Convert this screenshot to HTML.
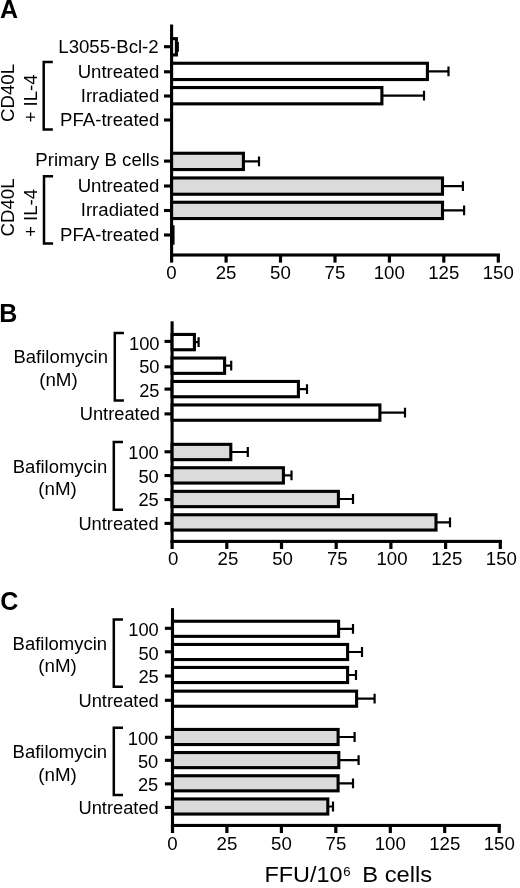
<!DOCTYPE html>
<html><head><meta charset="utf-8"><title>Figure</title>
<style>
html,body{margin:0;padding:0;background:#fff;}
svg{display:block;font-family:"Liberation Sans",sans-serif;fill:#000;will-change:transform;}
</style></head><body>
<svg width="520" height="888" viewBox="0 0 520 888">
<rect width="520" height="888" fill="#fff"/>
<text transform="translate(0.0,17.6) scale(1.0,1)" font-size="25" text-anchor="start" font-weight="bold">A</text>
<rect x="170.05" y="24.5" width="3.1" height="232.0" fill="#000"/>
<rect x="170.05" y="253.45" width="329.9" height="3.1" fill="#000"/>
<rect x="170.0" y="255.0" width="3.2" height="7.6" fill="#000"/>
<text transform="translate(171.5,279.2) scale(1.02,1)" font-size="18.3" text-anchor="middle">0</text>
<rect x="224.5" y="255.0" width="3.2" height="7.6" fill="#000"/>
<text transform="translate(226.0,279.2) scale(1.02,1)" font-size="18.3" text-anchor="middle">25</text>
<rect x="278.9" y="255.0" width="3.2" height="7.6" fill="#000"/>
<text transform="translate(280.4,279.2) scale(1.02,1)" font-size="18.3" text-anchor="middle">50</text>
<rect x="333.4" y="255.0" width="3.2" height="7.6" fill="#000"/>
<text transform="translate(334.9,279.2) scale(1.02,1)" font-size="18.3" text-anchor="middle">75</text>
<rect x="387.8" y="255.0" width="3.2" height="7.6" fill="#000"/>
<text transform="translate(389.3,279.2) scale(1.02,1)" font-size="18.3" text-anchor="middle">100</text>
<rect x="442.2" y="255.0" width="3.2" height="7.6" fill="#000"/>
<text transform="translate(443.8,279.2) scale(1.02,1)" font-size="18.3" text-anchor="middle">125</text>
<rect x="496.7" y="255.0" width="3.2" height="7.6" fill="#000"/>
<text transform="translate(498.2,279.2) scale(1.02,1)" font-size="18.3" text-anchor="middle">150</text>
<rect x="164.0" y="45.15" width="8" height="3.1" fill="#000"/>
<path d="M176.9,46.8H177.8M177.8,41.9V51.7" stroke="#000" stroke-width="2.2" fill="none"/><rect x="171.6" y="38.65" width="4.8" height="16.30" fill="#fff" stroke="#000" stroke-width="3.1"/>
<text transform="translate(158.6,52.7) scale(1.017,1)" font-size="18.3" text-anchor="end">L3055-Bcl-2</text>
<rect x="164.0" y="70.25" width="8" height="3.1" fill="#000"/>
<path d="M428.0,71.4H448.5M448.5,66.5V76.3" stroke="#000" stroke-width="2.2" fill="none"/><rect x="171.6" y="63.25" width="255.8" height="16.30" fill="#fff" stroke="#000" stroke-width="3.1"/>
<text transform="translate(159.3,78.0) scale(1.017,1)" font-size="18.3" text-anchor="end">Untreated</text>
<rect x="164.0" y="94.45" width="8" height="3.1" fill="#000"/>
<path d="M382.5,95.7H424.0M424.0,90.8V100.6" stroke="#000" stroke-width="2.2" fill="none"/><rect x="171.6" y="87.55" width="210.3" height="16.30" fill="#fff" stroke="#000" stroke-width="3.1"/>
<text transform="translate(159.3,102.2) scale(1.017,1)" font-size="18.3" text-anchor="end">Irradiated</text>
<rect x="164.0" y="118.45" width="8" height="3.1" fill="#000"/>
<text transform="translate(159.3,125.7) scale(1.017,1)" font-size="18.3" text-anchor="end">PFA-treated</text>
<rect x="164.0" y="159.55" width="8" height="3.1" fill="#000"/>
<path d="M244.0,161.4H259.0M259.0,156.5V166.3" stroke="#000" stroke-width="2.2" fill="none"/><rect x="171.6" y="153.25" width="71.8" height="16.30" fill="#dbdbdb" stroke="#000" stroke-width="3.1"/>
<text transform="translate(159.3,165.9) scale(1.017,1)" font-size="18.3" text-anchor="end">Primary B cells</text>
<rect x="164.0" y="184.45" width="8" height="3.1" fill="#000"/>
<path d="M443.0,186.1H462.9M462.9,181.2V191.0" stroke="#000" stroke-width="2.2" fill="none"/><rect x="171.6" y="177.95" width="270.9" height="16.30" fill="#dbdbdb" stroke="#000" stroke-width="3.1"/>
<text transform="translate(159.3,192.2) scale(1.017,1)" font-size="18.3" text-anchor="end">Untreated</text>
<rect x="164.0" y="208.95" width="8" height="3.1" fill="#000"/>
<path d="M443.0,210.4H464.1M464.1,205.5V215.3" stroke="#000" stroke-width="2.2" fill="none"/><rect x="171.6" y="202.25" width="270.9" height="16.30" fill="#dbdbdb" stroke="#000" stroke-width="3.1"/>
<text transform="translate(159.3,216.4) scale(1.017,1)" font-size="18.3" text-anchor="end">Irradiated</text>
<rect x="164.0" y="233.45" width="8" height="3.1" fill="#000"/>
<rect x="171.6" y="226.85" width="1.4" height="16.30" fill="#dbdbdb" stroke="#000" stroke-width="3.1"/>
<text transform="translate(159.3,240.6) scale(1.017,1)" font-size="18.3" text-anchor="end">PFA-treated</text>
<path d="M52.8,62.0H43.7V129.5H52.8" stroke="#000" stroke-width="2.5" fill="none"/>
<path d="M53.1,176.3H44.0V243.6H53.1" stroke="#000" stroke-width="2.5" fill="none"/>
<text transform="translate(14.0,93.0) rotate(-90) scale(1.02,1)" font-size="18.3" text-anchor="middle">CD40L</text>
<text transform="translate(36.8,98.5) rotate(-90) scale(1.02,1)" font-size="18.3" text-anchor="middle">+ IL-4</text>
<text transform="translate(14.0,207.5) rotate(-90) scale(1.02,1)" font-size="18.3" text-anchor="middle">CD40L</text>
<text transform="translate(36.8,213.0) rotate(-90) scale(1.02,1)" font-size="18.3" text-anchor="middle">+ IL-4</text>
<text transform="translate(-0.7,322.2) scale(1.0,1)" font-size="25" text-anchor="start" font-weight="bold">B</text>
<rect x="170.55" y="321.3" width="3.1" height="221.6" fill="#000"/>
<rect x="170.55" y="539.85" width="331.4" height="3.1" fill="#000"/>
<rect x="170.5" y="541.4" width="3.2" height="7.6" fill="#000"/>
<text transform="translate(173.2,564.9) scale(1.02,1)" font-size="18.3" text-anchor="middle">0</text>
<rect x="225.2" y="541.4" width="3.2" height="7.6" fill="#000"/>
<text transform="translate(227.9,564.9) scale(1.02,1)" font-size="18.3" text-anchor="middle">25</text>
<rect x="279.9" y="541.4" width="3.2" height="7.6" fill="#000"/>
<text transform="translate(282.6,564.9) scale(1.02,1)" font-size="18.3" text-anchor="middle">50</text>
<rect x="334.6" y="541.4" width="3.2" height="7.6" fill="#000"/>
<text transform="translate(337.3,564.9) scale(1.02,1)" font-size="18.3" text-anchor="middle">75</text>
<rect x="389.3" y="541.4" width="3.2" height="7.6" fill="#000"/>
<text transform="translate(392.0,564.9) scale(1.02,1)" font-size="18.3" text-anchor="middle">100</text>
<rect x="444.0" y="541.4" width="3.2" height="7.6" fill="#000"/>
<text transform="translate(446.7,564.9) scale(1.02,1)" font-size="18.3" text-anchor="middle">125</text>
<rect x="498.7" y="541.4" width="3.2" height="7.6" fill="#000"/>
<text transform="translate(501.4,564.9) scale(1.02,1)" font-size="18.3" text-anchor="middle">150</text>
<rect x="164.5" y="339.85" width="8" height="3.1" fill="#000"/>
<path d="M195.0,342.1H198.6M198.6,337.2V347.0" stroke="#000" stroke-width="2.2" fill="none"/><rect x="172.1" y="334.45" width="22.3" height="15.30" fill="#fff" stroke="#000" stroke-width="3.1"/>
<text transform="translate(159.5,349.7) scale(1.0,1)" font-size="18.3" text-anchor="end">100</text>
<rect x="164.5" y="365.25" width="8" height="3.1" fill="#000"/>
<path d="M225.2,365.7H231.2M231.2,360.8V370.6" stroke="#000" stroke-width="2.2" fill="none"/><rect x="172.1" y="358.05" width="52.5" height="15.30" fill="#fff" stroke="#000" stroke-width="3.1"/>
<text transform="translate(159.5,373.4) scale(1.0,1)" font-size="18.3" text-anchor="end">50</text>
<rect x="164.5" y="387.55" width="8" height="3.1" fill="#000"/>
<path d="M299.0,389.1H307.0M307.0,384.2V394.0" stroke="#000" stroke-width="2.2" fill="none"/><rect x="172.1" y="381.45" width="126.3" height="15.30" fill="#fff" stroke="#000" stroke-width="3.1"/>
<text transform="translate(159.5,396.8) scale(1.0,1)" font-size="18.3" text-anchor="end">25</text>
<rect x="164.5" y="412.35" width="8" height="3.1" fill="#000"/>
<path d="M380.5,412.6H405.0M405.0,407.7V417.5" stroke="#000" stroke-width="2.2" fill="none"/><rect x="172.1" y="404.95" width="207.8" height="15.30" fill="#fff" stroke="#000" stroke-width="3.1"/>
<text transform="translate(160.0,420.0) scale(1.0,1)" font-size="18.3" text-anchor="end">Untreated</text>
<rect x="164.5" y="450.25" width="8" height="3.1" fill="#000"/>
<path d="M231.3,452.0H247.8M247.8,447.1V456.9" stroke="#000" stroke-width="2.2" fill="none"/><rect x="172.1" y="444.35" width="58.7" height="15.30" fill="#dbdbdb" stroke="#000" stroke-width="3.1"/>
<text transform="translate(158.8,459.4) scale(1.0,1)" font-size="18.3" text-anchor="end">100</text>
<rect x="164.5" y="474.00" width="8" height="3.1" fill="#000"/>
<path d="M284.0,475.4H291.5M291.5,470.5V480.3" stroke="#000" stroke-width="2.2" fill="none"/><rect x="172.1" y="467.75" width="111.3" height="15.30" fill="#dbdbdb" stroke="#000" stroke-width="3.1"/>
<text transform="translate(158.8,482.8) scale(1.0,1)" font-size="18.3" text-anchor="end">50</text>
<rect x="164.5" y="498.05" width="8" height="3.1" fill="#000"/>
<path d="M339.0,499.0H353.0M353.0,494.1V503.9" stroke="#000" stroke-width="2.2" fill="none"/><rect x="172.1" y="491.35" width="166.3" height="15.30" fill="#dbdbdb" stroke="#000" stroke-width="3.1"/>
<text transform="translate(158.8,506.4) scale(1.0,1)" font-size="18.3" text-anchor="end">25</text>
<rect x="164.5" y="521.85" width="8" height="3.1" fill="#000"/>
<path d="M436.5,522.4H450.0M450.0,517.5V527.3" stroke="#000" stroke-width="2.2" fill="none"/><rect x="172.1" y="514.75" width="263.9" height="15.30" fill="#dbdbdb" stroke="#000" stroke-width="3.1"/>
<text transform="translate(158.7,529.8) scale(1.0,1)" font-size="18.3" text-anchor="end">Untreated</text>
<path d="M123.9,333.0H114.8V400.4H123.9" stroke="#000" stroke-width="2.5" fill="none"/>
<path d="M123.0,442.1H113.8V509.7H123.0" stroke="#000" stroke-width="2.5" fill="none"/>
<text transform="translate(60.7,363.4) scale(1.01,1)" font-size="18.3" text-anchor="middle">Bafilomycin</text>
<text transform="translate(58.4,385.5) scale(1.025,1)" font-size="18.3" text-anchor="middle">(nM)</text>
<text transform="translate(60.0,472.9) scale(1.01,1)" font-size="18.3" text-anchor="middle">Bafilomycin</text>
<text transform="translate(57.5,495.0) scale(1.025,1)" font-size="18.3" text-anchor="middle">(nM)</text>
<text transform="translate(0.3,609.6) scale(1.0,1)" font-size="25" text-anchor="start" font-weight="bold">C</text>
<rect x="170.95" y="608.1" width="3.1" height="218.9" fill="#000"/>
<rect x="170.95" y="823.90" width="329.9" height="3.1" fill="#000"/>
<rect x="170.9" y="825.45" width="3.2" height="7.6" fill="#000"/>
<text transform="translate(172.5,850.0) scale(1.02,1)" font-size="18.3" text-anchor="middle">0</text>
<rect x="225.3" y="825.45" width="3.2" height="7.6" fill="#000"/>
<text transform="translate(226.9,850.0) scale(1.02,1)" font-size="18.3" text-anchor="middle">25</text>
<rect x="279.8" y="825.45" width="3.2" height="7.6" fill="#000"/>
<text transform="translate(281.4,850.0) scale(1.02,1)" font-size="18.3" text-anchor="middle">50</text>
<rect x="334.2" y="825.45" width="3.2" height="7.6" fill="#000"/>
<text transform="translate(335.9,850.0) scale(1.02,1)" font-size="18.3" text-anchor="middle">75</text>
<rect x="388.7" y="825.45" width="3.2" height="7.6" fill="#000"/>
<text transform="translate(390.3,850.0) scale(1.02,1)" font-size="18.3" text-anchor="middle">100</text>
<rect x="443.1" y="825.45" width="3.2" height="7.6" fill="#000"/>
<text transform="translate(444.8,850.0) scale(1.02,1)" font-size="18.3" text-anchor="middle">125</text>
<rect x="497.6" y="825.45" width="3.2" height="7.6" fill="#000"/>
<text transform="translate(499.2,850.0) scale(1.02,1)" font-size="18.3" text-anchor="middle">150</text>
<rect x="164.9" y="626.75" width="8" height="3.1" fill="#000"/>
<path d="M339.2,628.8H353.0M353.0,623.9V633.7" stroke="#000" stroke-width="2.2" fill="none"/><rect x="172.5" y="621.25" width="166.1" height="15.10" fill="#fff" stroke="#000" stroke-width="3.1"/>
<text transform="translate(158.8,636.4) scale(1.0,1)" font-size="18.3" text-anchor="end">100</text>
<rect x="164.9" y="650.25" width="8" height="3.1" fill="#000"/>
<path d="M348.2,652.0H362.0M362.0,647.1V656.9" stroke="#000" stroke-width="2.2" fill="none"/><rect x="172.5" y="644.45" width="175.1" height="15.10" fill="#fff" stroke="#000" stroke-width="3.1"/>
<text transform="translate(158.8,659.5) scale(1.0,1)" font-size="18.3" text-anchor="end">50</text>
<rect x="164.9" y="674.45" width="8" height="3.1" fill="#000"/>
<path d="M348.2,675.0H356.0M356.0,670.1V679.9" stroke="#000" stroke-width="2.2" fill="none"/><rect x="172.5" y="667.45" width="175.1" height="15.10" fill="#fff" stroke="#000" stroke-width="3.1"/>
<text transform="translate(158.8,683.1) scale(1.0,1)" font-size="18.3" text-anchor="end">25</text>
<rect x="164.9" y="698.75" width="8" height="3.1" fill="#000"/>
<path d="M357.2,698.7H374.6M374.6,693.8V703.6" stroke="#000" stroke-width="2.2" fill="none"/><rect x="172.5" y="691.15" width="184.1" height="15.10" fill="#fff" stroke="#000" stroke-width="3.1"/>
<text transform="translate(158.8,706.8) scale(1.0,1)" font-size="18.3" text-anchor="end">Untreated</text>
<rect x="164.9" y="735.75" width="8" height="3.1" fill="#000"/>
<path d="M338.6,737.0H354.6M354.6,732.1V741.9" stroke="#000" stroke-width="2.2" fill="none"/><rect x="172.5" y="729.45" width="165.6" height="15.10" fill="#dbdbdb" stroke="#000" stroke-width="3.1"/>
<text transform="translate(158.3,744.7) scale(1.0,1)" font-size="18.3" text-anchor="end">100</text>
<rect x="164.9" y="758.75" width="8" height="3.1" fill="#000"/>
<path d="M339.4,760.1H358.6M358.6,755.2V765.0" stroke="#000" stroke-width="2.2" fill="none"/><rect x="172.5" y="752.55" width="166.3" height="15.10" fill="#dbdbdb" stroke="#000" stroke-width="3.1"/>
<text transform="translate(158.3,767.7) scale(1.0,1)" font-size="18.3" text-anchor="end">50</text>
<rect x="164.9" y="782.35" width="8" height="3.1" fill="#000"/>
<path d="M338.6,783.3H353.0M353.0,778.4V788.2" stroke="#000" stroke-width="2.2" fill="none"/><rect x="172.5" y="775.75" width="165.6" height="15.10" fill="#dbdbdb" stroke="#000" stroke-width="3.1"/>
<text transform="translate(158.3,791.2) scale(1.0,1)" font-size="18.3" text-anchor="end">25</text>
<rect x="164.9" y="805.85" width="8" height="3.1" fill="#000"/>
<path d="M328.4,806.5H333.0M333.0,801.6V811.4" stroke="#000" stroke-width="2.2" fill="none"/><rect x="172.5" y="798.95" width="155.3" height="15.10" fill="#dbdbdb" stroke="#000" stroke-width="3.1"/>
<text transform="translate(158.8,814.2) scale(1.0,1)" font-size="18.3" text-anchor="end">Untreated</text>
<path d="M123.0,619.4H113.8V686.8H123.0" stroke="#000" stroke-width="2.5" fill="none"/>
<path d="M123.0,727.7H113.8V795.0H123.0" stroke="#000" stroke-width="2.5" fill="none"/>
<text transform="translate(59.8,649.9) scale(1.01,1)" font-size="18.3" text-anchor="middle">Bafilomycin</text>
<text transform="translate(57.5,672.0) scale(1.025,1)" font-size="18.3" text-anchor="middle">(nM)</text>
<text transform="translate(59.8,758.4) scale(1.01,1)" font-size="18.3" text-anchor="middle">Bafilomycin</text>
<text transform="translate(57.5,780.5) scale(1.025,1)" font-size="18.3" text-anchor="middle">(nM)</text>
<text transform="translate(264.5,882.2) scale(1.065,1)" font-size="22" text-anchor="start">FFU/10</text>
<text transform="translate(343.2,875.6) scale(1.03,1)" font-size="12.8" text-anchor="start">6</text>
<text transform="translate(362.2,882.2) scale(1.08,1)" font-size="22" text-anchor="start">B cells</text>
</svg>
</body></html>
